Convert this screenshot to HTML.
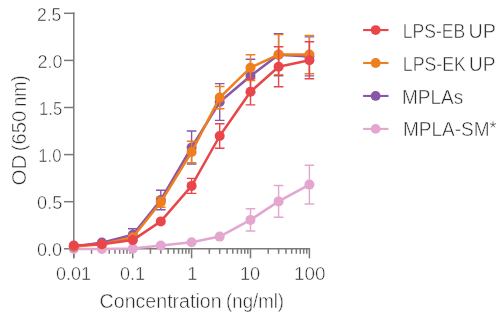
<!DOCTYPE html>
<html><head><meta charset="utf-8"><style>
html,body{margin:0;padding:0;background:#fff;width:500px;height:314px;overflow:hidden}
svg{display:block;position:absolute;left:0;top:0;will-change:transform}
text{font-family:"Liberation Sans",sans-serif;fill:#282828;stroke:#fff;stroke-width:0.5px;}
</style></head><body>
<svg width="500" height="314" viewBox="0 0 500 314">
<g stroke="#7a7a7a" stroke-width="1.5" fill="none">
<line x1="73.8" y1="12.6" x2="73.8" y2="258.3"/>
<line x1="73.05" y1="248.8" x2="310.1" y2="248.8"/>
<line x1="64" y1="248.80" x2="73.8" y2="248.80"/>
<line x1="64" y1="201.70" x2="73.8" y2="201.70"/>
<line x1="64" y1="154.60" x2="73.8" y2="154.60"/>
<line x1="64" y1="107.50" x2="73.8" y2="107.50"/>
<line x1="64" y1="60.40" x2="73.8" y2="60.40"/>
<line x1="64" y1="13.3" x2="74.55" y2="13.3"/>
<line x1="73.80" y1="248.8" x2="73.80" y2="258.3"/>
<line x1="91.53" y1="248.8" x2="91.53" y2="253.8"/>
<line x1="101.90" y1="248.8" x2="101.90" y2="253.8"/>
<line x1="109.26" y1="248.8" x2="109.26" y2="253.8"/>
<line x1="114.97" y1="248.8" x2="114.97" y2="253.8"/>
<line x1="119.63" y1="248.8" x2="119.63" y2="253.8"/>
<line x1="123.58" y1="248.8" x2="123.58" y2="253.8"/>
<line x1="126.99" y1="248.8" x2="126.99" y2="253.8"/>
<line x1="130.00" y1="248.8" x2="130.00" y2="253.8"/>
<line x1="132.70" y1="248.8" x2="132.70" y2="258.3"/>
<line x1="150.43" y1="248.8" x2="150.43" y2="253.8"/>
<line x1="160.80" y1="248.8" x2="160.80" y2="253.8"/>
<line x1="168.16" y1="248.8" x2="168.16" y2="253.8"/>
<line x1="173.87" y1="248.8" x2="173.87" y2="253.8"/>
<line x1="178.53" y1="248.8" x2="178.53" y2="253.8"/>
<line x1="182.48" y1="248.8" x2="182.48" y2="253.8"/>
<line x1="185.89" y1="248.8" x2="185.89" y2="253.8"/>
<line x1="188.90" y1="248.8" x2="188.90" y2="253.8"/>
<line x1="191.60" y1="248.8" x2="191.60" y2="258.3"/>
<line x1="209.33" y1="248.8" x2="209.33" y2="253.8"/>
<line x1="219.70" y1="248.8" x2="219.70" y2="253.8"/>
<line x1="227.06" y1="248.8" x2="227.06" y2="253.8"/>
<line x1="232.77" y1="248.8" x2="232.77" y2="253.8"/>
<line x1="237.43" y1="248.8" x2="237.43" y2="253.8"/>
<line x1="241.38" y1="248.8" x2="241.38" y2="253.8"/>
<line x1="244.79" y1="248.8" x2="244.79" y2="253.8"/>
<line x1="247.80" y1="248.8" x2="247.80" y2="253.8"/>
<line x1="250.50" y1="248.8" x2="250.50" y2="258.3"/>
<line x1="268.23" y1="248.8" x2="268.23" y2="253.8"/>
<line x1="278.60" y1="248.8" x2="278.60" y2="253.8"/>
<line x1="285.96" y1="248.8" x2="285.96" y2="253.8"/>
<line x1="291.67" y1="248.8" x2="291.67" y2="253.8"/>
<line x1="296.33" y1="248.8" x2="296.33" y2="253.8"/>
<line x1="300.28" y1="248.8" x2="300.28" y2="253.8"/>
<line x1="303.69" y1="248.8" x2="303.69" y2="253.8"/>
<line x1="306.70" y1="248.8" x2="306.70" y2="253.8"/>
<line x1="309.40" y1="248.8" x2="309.40" y2="258.3"/>
</g>
<g stroke="#e3a6cf" fill="#e3a6cf">
<path d="M245.70 208.80H255.30M250.50 208.80V231.00M245.70 231.00H255.30" stroke-width="1.4" fill="none"/>
<path d="M273.80 185.50H283.40M278.60 185.50V217.30M273.80 217.30H283.40" stroke-width="1.4" fill="none"/>
<path d="M304.60 165.25H314.20M309.40 165.25V203.95M304.60 203.95H314.20" stroke-width="1.4" fill="none"/>
<polyline points="73.80,249.00 101.90,249.00 132.80,248.60 160.80,245.60 191.60,242.30 219.70,236.60 250.50,219.90 278.60,201.40 309.40,184.60" fill="none" stroke-width="2.5" stroke-linejoin="round"/>
<circle cx="73.80" cy="249.00" r="5.0" stroke="none"/>
<circle cx="101.90" cy="249.00" r="5.0" stroke="none"/>
<circle cx="132.80" cy="248.60" r="5.0" stroke="none"/>
<circle cx="160.80" cy="245.60" r="5.0" stroke="none"/>
<circle cx="191.60" cy="242.30" r="5.0" stroke="none"/>
<circle cx="219.70" cy="236.60" r="5.0" stroke="none"/>
<circle cx="250.50" cy="219.90" r="5.0" stroke="none"/>
<circle cx="278.60" cy="201.40" r="5.0" stroke="none"/>
<circle cx="309.40" cy="184.60" r="5.0" stroke="none"/>
</g>
<g stroke="#8b56a6" fill="#8b56a6">
<path d="M128.00 228.80H137.60M132.80 228.80V240.80M128.00 240.80H137.60" stroke-width="1.4" fill="none"/>
<path d="M156.00 190.25H165.60M160.80 190.25V209.75M156.00 209.75H165.60" stroke-width="1.4" fill="none"/>
<path d="M186.80 131.00H196.40M191.60 131.00V164.00M186.80 164.00H196.40" stroke-width="1.4" fill="none"/>
<path d="M214.90 83.60H224.50M219.70 83.60V120.40M214.90 120.40H224.50" stroke-width="1.4" fill="none"/>
<path d="M245.70 59.20H255.30M250.50 59.20V92.80M245.70 92.80H255.30" stroke-width="1.4" fill="none"/>
<path d="M273.80 33.80H283.40M278.60 33.80V75.80M273.80 75.80H283.40" stroke-width="1.4" fill="none"/>
<path d="M304.60 36.90H314.20M309.40 36.90V75.90M304.60 75.90H314.20" stroke-width="1.4" fill="none"/>
<polyline points="73.80,246.80 101.90,242.60 132.80,234.80 160.80,200.00 191.60,147.50 219.70,102.00 250.50,76.00 278.60,54.80 309.40,56.40" fill="none" stroke-width="2.5" stroke-linejoin="round"/>
<circle cx="73.80" cy="246.80" r="5.0" stroke="none"/>
<circle cx="101.90" cy="242.60" r="5.0" stroke="none"/>
<circle cx="132.80" cy="234.80" r="5.0" stroke="none"/>
<circle cx="160.80" cy="200.00" r="5.0" stroke="none"/>
<circle cx="191.60" cy="147.50" r="5.0" stroke="none"/>
<circle cx="219.70" cy="102.00" r="5.0" stroke="none"/>
<circle cx="250.50" cy="76.00" r="5.0" stroke="none"/>
<circle cx="278.60" cy="54.80" r="5.0" stroke="none"/>
<circle cx="309.40" cy="56.40" r="5.0" stroke="none"/>
</g>
<g stroke="#ee7f1f" fill="#ee7f1f">
<path d="M156.00 197.15H165.60M160.80 197.15V207.25M156.00 207.25H165.60" stroke-width="1.4" fill="none"/>
<path d="M186.80 141.25H196.40M191.60 141.25V162.75M186.80 162.75H196.40" stroke-width="1.4" fill="none"/>
<path d="M214.90 86.50H224.50M219.70 86.50V108.70M214.90 108.70H224.50" stroke-width="1.4" fill="none"/>
<path d="M245.70 54.80H255.30M250.50 54.80V80.60M245.70 80.60H255.30" stroke-width="1.4" fill="none"/>
<path d="M273.80 34.60H283.40M278.60 34.60V74.60M273.80 74.60H283.40" stroke-width="1.4" fill="none"/>
<path d="M304.60 35.40H314.20M309.40 35.40V73.80M304.60 73.80H314.20" stroke-width="1.4" fill="none"/>
<polyline points="73.80,246.50 101.90,244.20 132.80,237.30 160.80,202.20 191.60,152.00 219.70,97.60 250.50,67.70 278.60,54.60 309.40,54.60" fill="none" stroke-width="2.5" stroke-linejoin="round"/>
<circle cx="73.80" cy="246.50" r="5.0" stroke="none"/>
<circle cx="101.90" cy="244.20" r="5.0" stroke="none"/>
<circle cx="132.80" cy="237.30" r="5.0" stroke="none"/>
<circle cx="160.80" cy="202.20" r="5.0" stroke="none"/>
<circle cx="191.60" cy="152.00" r="5.0" stroke="none"/>
<circle cx="219.70" cy="97.60" r="5.0" stroke="none"/>
<circle cx="250.50" cy="67.70" r="5.0" stroke="none"/>
<circle cx="278.60" cy="54.60" r="5.0" stroke="none"/>
<circle cx="309.40" cy="54.60" r="5.0" stroke="none"/>
</g>
<g stroke="#e8464b" fill="#e8464b">
<path d="M186.80 178.40H196.40M191.60 178.40V193.40M186.80 193.40H196.40" stroke-width="1.4" fill="none"/>
<path d="M214.90 123.75H224.50M219.70 123.75V148.25M214.90 148.25H224.50" stroke-width="1.4" fill="none"/>
<path d="M245.70 78.70H255.30M250.50 78.70V104.90M245.70 104.90H255.30" stroke-width="1.4" fill="none"/>
<path d="M273.80 46.70H283.40M278.60 46.70V86.70M273.80 86.70H283.40" stroke-width="1.4" fill="none"/>
<path d="M304.60 41.80H314.20M309.40 41.80V78.80M304.60 78.80H314.20" stroke-width="1.4" fill="none"/>
<polyline points="73.80,245.50 101.90,244.30 132.80,240.10 160.80,221.40 191.60,185.90 219.70,136.00 250.50,91.80 278.60,66.70 309.40,60.30" fill="none" stroke-width="2.5" stroke-linejoin="round"/>
<circle cx="73.80" cy="245.50" r="5.0" stroke="none"/>
<circle cx="101.90" cy="244.30" r="5.0" stroke="none"/>
<circle cx="132.80" cy="240.10" r="5.0" stroke="none"/>
<circle cx="160.80" cy="221.40" r="5.0" stroke="none"/>
<circle cx="191.60" cy="185.90" r="5.0" stroke="none"/>
<circle cx="219.70" cy="136.00" r="5.0" stroke="none"/>
<circle cx="250.50" cy="91.80" r="5.0" stroke="none"/>
<circle cx="278.60" cy="66.70" r="5.0" stroke="none"/>
<circle cx="309.40" cy="60.30" r="5.0" stroke="none"/>
</g>
<line x1="363.1" y1="30.05" x2="388.5" y2="30.05" stroke="#e8464b" stroke-width="2.1"/>
<circle cx="375.65" cy="30.05" r="4.9" fill="#e8464b"/>
<line x1="363.1" y1="63.0" x2="388.5" y2="63.0" stroke="#ee7f1f" stroke-width="2.1"/>
<circle cx="375.65" cy="63.0" r="4.9" fill="#ee7f1f"/>
<line x1="363.1" y1="95.95" x2="388.5" y2="95.95" stroke="#8b56a6" stroke-width="2.1"/>
<circle cx="375.65" cy="95.95" r="4.9" fill="#8b56a6"/>
<line x1="363.1" y1="128.9" x2="388.5" y2="128.9" stroke="#e3a6cf" stroke-width="2.1"/>
<circle cx="375.65" cy="128.9" r="4.9" fill="#e3a6cf"/>
<path d="M493.00 124.70L493.00 121.50M493.00 124.70L496.04 123.71M493.00 124.70L494.88 127.29M493.00 124.70L491.12 127.29M493.00 124.70L489.96 123.71" stroke="#606060" stroke-width="0.9" fill="none"/>
<text transform="translate(36.900,20.800) scale(0.9751,1)" style="font-size:18.000px">2.5</text>
<text transform="translate(37.600,67.900) scale(1.0000,1)" style="font-size:18.000px">2.0</text>
<text transform="translate(39.100,115.000) scale(0.9215,1)" style="font-size:18.000px">1.5</text>
<text transform="translate(38.200,161.500) scale(0.9327,1)" style="font-size:18.000px">1.0</text>
<text transform="translate(37.100,208.600) scale(1.0102,1)" style="font-size:18.000px">0.5</text>
<text transform="translate(37.000,255.700) scale(1.0052,1)" style="font-size:18.000px">0.0</text>
<text transform="translate(56.000,279.600) scale(1.0000,1)" style="font-size:18.000px">0.01</text>
<text transform="translate(120.000,279.600) scale(1.0000,1)" style="font-size:18.000px">0.1</text>
<text transform="translate(187.300,279.600) scale(1.0361,1)" style="font-size:18.000px">1</text>
<text transform="translate(240.000,279.600) scale(1.0093,1)" style="font-size:18.000px">10</text>
<text transform="translate(293.900,279.600) scale(1.0520,1)" style="font-size:18.000px">100</text>
<text transform="translate(99.600,308.100) scale(1.0052,1)" style="font-size:19.500px">Concentration</text>
<text transform="translate(226.100,308.100) scale(0.9554,1)" style="font-size:19.500px">(ng/ml)</text>
<text transform="translate(25.600,185.500) rotate(-90) scale(1.0533,1)" style="font-size:19.500px">OD</text>
<text transform="translate(25.600,151.300) rotate(-90) scale(1.0397,1)" style="font-size:19.500px">(650</text>
<text transform="translate(25.600,106.800) rotate(-90) scale(0.9366,1)" style="font-size:19.500px">nm)</text>
<text transform="translate(402.800,37.700) scale(0.8766,1)" style="font-size:20.000px">LPS-EB</text>
<text transform="translate(468.600,37.700) scale(0.9878,1)" style="font-size:20.000px">UP</text>
<text transform="translate(402.800,70.600) scale(0.8854,1)" style="font-size:20.000px">LPS-EK</text>
<text transform="translate(469.000,70.600) scale(0.9527,1)" style="font-size:20.000px">UP</text>
<text transform="translate(402.000,103.500) scale(0.9488,1)" style="font-size:20.000px">MPLAs</text>
<text transform="translate(402.900,136.400) scale(0.9518,1)" style="font-size:20.000px">MPLA-SM</text>
</svg>
</body></html>
